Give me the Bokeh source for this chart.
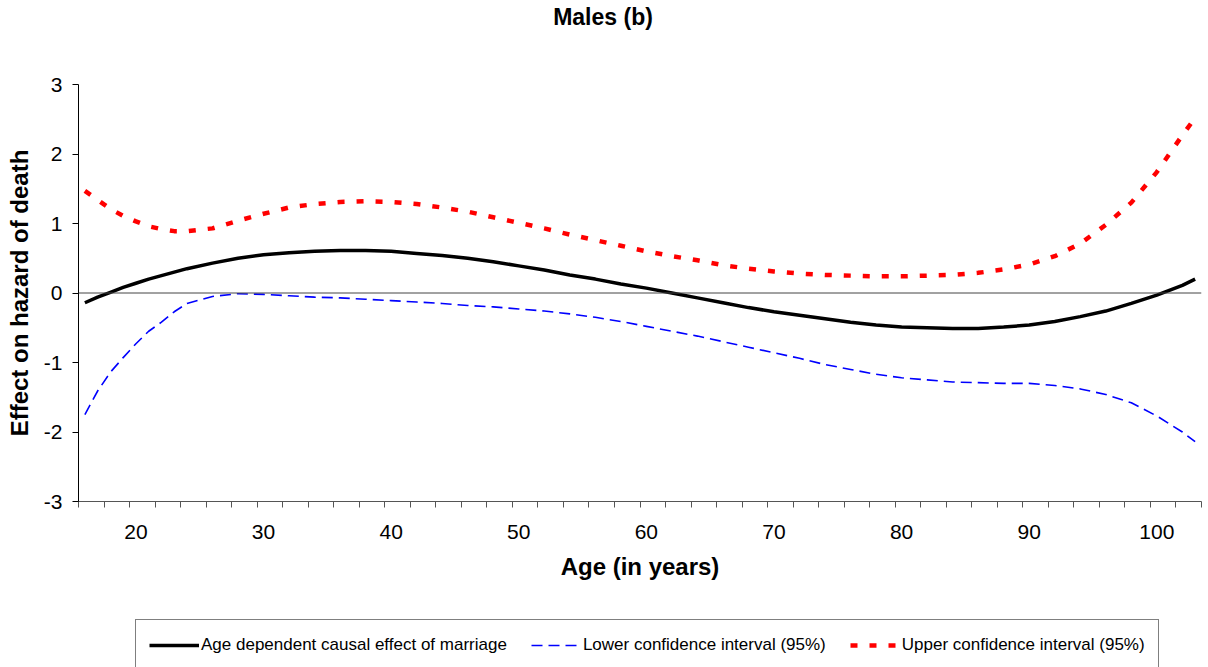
from bokeh.plotting import figure
from bokeh.layouts import column
from bokeh.models import (FixedTicker, Range1d, Span, Legend, LegendItem, Label,
                          ColumnDataSource)
from bokeh.embed import file_html
from bokeh.resources import INLINE

# ---- data ----
ages = [16, 17, 18, 19, 20, 21, 22, 23, 24, 26, 28, 30, 32, 34, 36, 38, 40, 42, 44,
        46, 48, 50, 52, 54, 56, 58, 60, 62, 64, 66, 68, 70, 72, 74, 76, 78, 80, 82,
        84, 86, 88, 90, 92, 94, 96, 98, 100, 102, 103]

effect = [-0.14, -0.06, 0.01, 0.08, 0.14, 0.20, 0.25, 0.30, 0.35, 0.43, 0.50, 0.55,
          0.58, 0.60, 0.61, 0.61, 0.60, 0.57, 0.54, 0.50, 0.45, 0.39, 0.33, 0.26,
          0.20, 0.13, 0.07, 0.00, -0.07, -0.14, -0.21, -0.27, -0.32, -0.37, -0.42,
          -0.46, -0.49, -0.50, -0.51, -0.51, -0.49, -0.46, -0.41, -0.34, -0.26,
          -0.15, -0.03, 0.11, 0.20]

lower = [-1.75, -1.41, -1.14, -0.93, -0.73, -0.55, -0.42, -0.27, -0.15, -0.05, -0.01,
         -0.02, -0.04, -0.06, -0.07, -0.09, -0.11, -0.13, -0.15, -0.18, -0.20, -0.23,
         -0.26, -0.30, -0.35, -0.41, -0.48, -0.55, -0.62, -0.70, -0.78, -0.86, -0.94,
         -1.03, -1.10, -1.17, -1.22, -1.25, -1.28, -1.29, -1.30, -1.30, -1.33, -1.38,
         -1.46, -1.58, -1.77, -2.00, -2.14]

upper = [1.47, 1.34, 1.21, 1.11, 1.03, 0.96, 0.92, 0.89, 0.89, 0.93, 1.04, 1.14,
         1.23, 1.28, 1.31, 1.32, 1.31, 1.28, 1.23, 1.17, 1.09, 1.01, 0.93, 0.84,
         0.76, 0.68, 0.60, 0.53, 0.47, 0.40, 0.35, 0.31, 0.28, 0.26, 0.25, 0.24,
         0.24, 0.25, 0.26, 0.29, 0.34, 0.41, 0.53, 0.71, 0.98, 1.30, 1.74, 2.27, 2.52]

x_labels = [20, 30, 40, 50, 60, 70, 80, 90, 100]
x_minor = [15.5 + 2 * i for i in range(45)]
y_ticks = [-3, -2, -1, 0, 1, 2, 3]

title_text = "Males (b)"
x_title = "Age (in years)"
y_title = "Effect on hazard of death"
names = ["Age dependent causal effect of marriage",
         "Lower confidence interval (95%)",
         "Upper confidence interval (95%)"]

FONT = "Liberation Sans"
W = 1204

styles = [dict(line_color="black", line_width=3.5),
          dict(line_color="#0000FF", line_width=1.6, line_dash="11 6"),
          dict(line_color="#FF0000", line_width=4.5, line_dash="7 12")]


def bare(h):
    f = figure(width=W, height=h, output_backend="svg", toolbar_location=None,
               x_axis_location=None, y_axis_location=None,
               x_range=Range1d(0, 1), y_range=Range1d(0, 1),
               min_border_left=0, min_border_right=0, min_border_top=0,
               min_border_bottom=0)
    f.outline_line_color = None
    f.xgrid.visible = False
    f.ygrid.visible = False
    return f


# ---- title strip ----
pt = bare(40)
pt.add_layout(Label(x=524.5, y=23.7, x_units="screen", y_units="screen",
                    text=title_text, text_font=FONT, text_font_style="bold",
                    text_font_size="23px", text_align="center",
                    text_baseline="alphabetic", text_color="black"))

# ---- main chart ----
src = ColumnDataSource(dict(age=ages, effect=effect, lower=lower, upper=upper))

p = figure(width=W, height=579, output_backend="svg", toolbar_location=None,
           x_range=Range1d(15.5, 103.5), y_range=Range1d(-3, 3),
           min_border_left=78, min_border_right=3, min_border_top=44,
           min_border_bottom=118)
p.outline_line_color = None
p.xgrid.visible = False
p.ygrid.visible = False

xa = p.xaxis[0]
xa.ticker = FixedTicker(ticks=x_labels, minor_ticks=x_minor)
xa.major_tick_out = 0
xa.major_tick_in = 0
xa.minor_tick_out = 6
xa.minor_tick_in = 0
xa.axis_line_color = "#555555"
xa.minor_tick_line_color = "#555555"
xa.major_label_text_font = FONT
xa.major_label_text_font_size = "21px"
xa.major_label_text_color = "black"
xa.major_label_standoff = 17
xa.axis_label = x_title
xa.axis_label_text_font = FONT
xa.axis_label_text_font_style = "bold"
xa.axis_label_text_font_size = "24px"
xa.axis_label_text_color = "black"
xa.axis_label_standoff = 11

ya = p.yaxis[0]
ya.ticker = FixedTicker(ticks=y_ticks)
ya.major_label_overrides = {t: str(t) for t in y_ticks}
ya.major_tick_out = 6
ya.major_tick_in = 0
ya.minor_tick_out = 0
ya.minor_tick_in = 0
ya.axis_line_color = "black"
ya.major_tick_line_color = "black"
ya.major_label_text_font = FONT
ya.major_label_text_font_size = "21px"
ya.major_label_text_color = "black"
ya.major_label_standoff = 10
ya.axis_label = y_title
ya.axis_label_text_font = FONT
ya.axis_label_text_font_style = "bold"
ya.axis_label_text_font_size = "24px"
ya.axis_label_text_color = "black"
ya.axis_label_standoff = 8

p.add_layout(Span(location=0, dimension="width", line_color="#444444", line_width=1))

p.line("age", "effect", source=src, **styles[0])
p.line("age", "lower", source=src, **styles[1])
p.line("age", "upper", source=src, **styles[2])

# ---- legend strip (cut off at the bottom, as in the reference) ----
pl = bare(48)
legend_renderers = [pl.line("age", col, source=src, **s)
                    for col, s in zip(["effect", "lower", "upper"], styles)]
legend = Legend(items=[LegendItem(label=n, renderers=[r])
                       for n, r in zip(names, legend_renderers)],
                orientation="horizontal", location=(57, -3.5),
                border_line_color="black", border_line_width=1,
                background_fill_color="white", background_fill_alpha=1.0,
                label_text_font=FONT, label_text_font_size="17px",
                label_text_color="black",
                glyph_width=50, glyph_height=20, label_height=24,
                label_standoff=2, spacing=24, padding=13, margin=0)
pl.add_layout(legend, "center")

layout = column(pt, p, pl, spacing=0)
open("out.html", "w").write(file_html(layout, INLINE))
